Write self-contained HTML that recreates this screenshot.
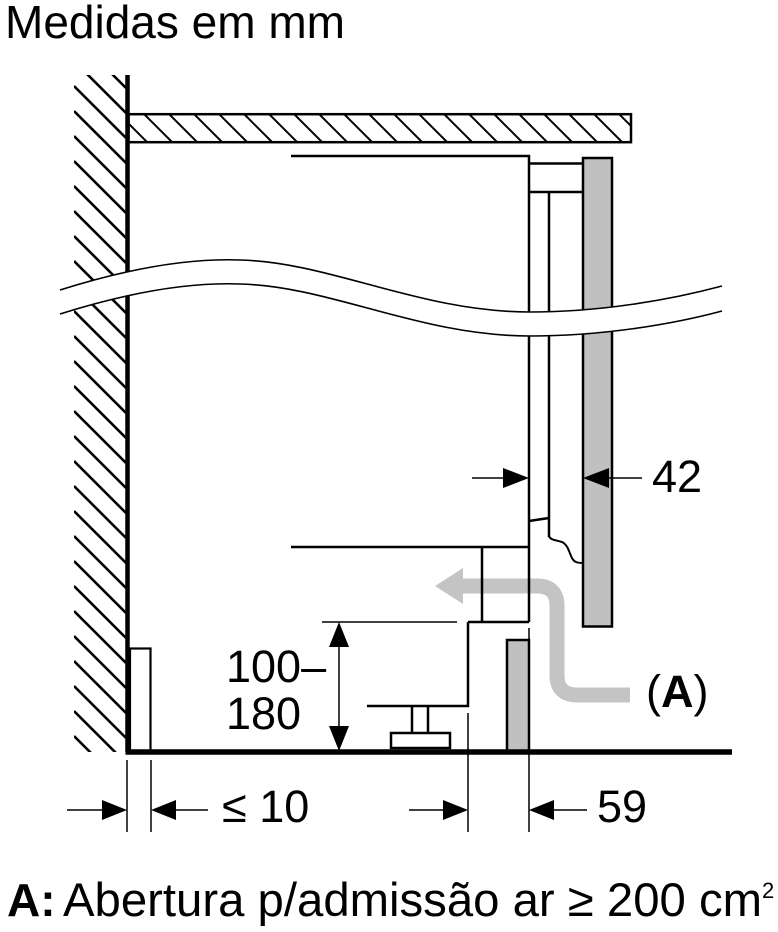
<!DOCTYPE html>
<html>
<head>
<meta charset="utf-8">
<style>
  html, body { margin:0; padding:0; background:#fff; }
  svg { display:block; }
  text { font-family: "Liberation Sans", Arial, sans-serif; fill:#000; }
</style>
</head>
<body>
<svg width="778" height="932" viewBox="0 0 778 932" xmlns="http://www.w3.org/2000/svg">
  <defs>
    <clipPath id="wallclip"><rect x="74" y="75" width="52" height="677"/></clipPath>
    <clipPath id="topclip"><rect x="128.5" y="114.5" width="502.5" height="27.5"/></clipPath>
  </defs>

  <!-- Title -->
  <text x="5" y="38" font-size="46">Medidas em mm</text>

  <!-- Wall hatch -->
  <g clip-path="url(#wallclip)" stroke="#000" stroke-width="2.6">
    <line x1="74" y1="36" x2="126" y2="88"/>
    <line x1="74" y1="61" x2="126" y2="113"/>
    <line x1="74" y1="86" x2="126" y2="138"/>
    <line x1="74" y1="111" x2="126" y2="163"/>
    <line x1="74" y1="136" x2="126" y2="188"/>
    <line x1="74" y1="161" x2="126" y2="213"/>
    <line x1="74" y1="186" x2="126" y2="238"/>
    <line x1="74" y1="211" x2="126" y2="263"/>
    <line x1="74" y1="236" x2="126" y2="288"/>
    <line x1="74" y1="261" x2="126" y2="313"/>
    <line x1="74" y1="286" x2="126" y2="338"/>
    <line x1="74" y1="311" x2="126" y2="363"/>
    <line x1="74" y1="336" x2="126" y2="388"/>
    <line x1="74" y1="361" x2="126" y2="413"/>
    <line x1="74" y1="386" x2="126" y2="438"/>
    <line x1="74" y1="411" x2="126" y2="463"/>
    <line x1="74" y1="436" x2="126" y2="488"/>
    <line x1="74" y1="461" x2="126" y2="513"/>
    <line x1="74" y1="486" x2="126" y2="538"/>
    <line x1="74" y1="511" x2="126" y2="563"/>
    <line x1="74" y1="536" x2="126" y2="588"/>
    <line x1="74" y1="561" x2="126" y2="613"/>
    <line x1="74" y1="586" x2="126" y2="638"/>
    <line x1="74" y1="611" x2="126" y2="663"/>
    <line x1="74" y1="636" x2="126" y2="688"/>
    <line x1="74" y1="661" x2="126" y2="713"/>
    <line x1="74" y1="686" x2="126" y2="738"/>
    <line x1="74" y1="711" x2="126" y2="763"/>
    <line x1="74" y1="736" x2="126" y2="788"/>
  </g>

  <!-- Countertop -->
  <rect x="128.5" y="114.2" width="502.5" height="28" fill="#fff" stroke="#000" stroke-width="2.5"/>
  <g clip-path="url(#topclip)" stroke="#000" stroke-width="2">
    <line x1="118" y1="113" x2="148" y2="143"/>
    <line x1="143" y1="113" x2="173" y2="143"/>
    <line x1="168" y1="113" x2="198" y2="143"/>
    <line x1="193" y1="113" x2="223" y2="143"/>
    <line x1="218" y1="113" x2="248" y2="143"/>
    <line x1="243" y1="113" x2="273" y2="143"/>
    <line x1="268" y1="113" x2="298" y2="143"/>
    <line x1="293" y1="113" x2="323" y2="143"/>
    <line x1="318" y1="113" x2="348" y2="143"/>
    <line x1="343" y1="113" x2="373" y2="143"/>
    <line x1="368" y1="113" x2="398" y2="143"/>
    <line x1="393" y1="113" x2="423" y2="143"/>
    <line x1="418" y1="113" x2="448" y2="143"/>
    <line x1="443" y1="113" x2="473" y2="143"/>
    <line x1="468" y1="113" x2="498" y2="143"/>
    <line x1="493" y1="113" x2="523" y2="143"/>
    <line x1="518" y1="113" x2="548" y2="143"/>
    <line x1="543" y1="113" x2="573" y2="143"/>
    <line x1="568" y1="113" x2="598" y2="143"/>
    <line x1="593" y1="113" x2="623" y2="143"/>
    <line x1="618" y1="113" x2="648" y2="143"/>
  </g>

  <!-- Gray airflow arrow (drawn beneath lines) -->
  <path d="M460 586 H537 Q557 586 557 606 V675 Q557 695 577 695 H630" fill="none" stroke="#c4c4c4" stroke-width="15"/>
  <polygon points="435,586 463,568 463,604" fill="#c4c4c4"/>

  <!-- Wall line -->
  <line x1="127.5" y1="75" x2="127.5" y2="752" stroke="#000" stroke-width="4.5"/>

  <!-- Appliance -->
  <g stroke="#000" stroke-width="2.5" fill="none">
    <polyline points="291,156 529,156 529,622"/>
    <line x1="529" y1="163.5" x2="583" y2="163.5"/>
    <line x1="529" y1="192" x2="583" y2="192"/>
    <line x1="549" y1="192" x2="549" y2="537"/>
    <line x1="529" y1="521" x2="549" y2="518"/>
    <path d="M549 536 C550 540 556 540 562 542 C568 545 569 552 572 558 C574 562 577 563 583 563" stroke-width="2"/>
    <line x1="291" y1="547" x2="529" y2="547"/>
    <line x1="482" y1="547" x2="482" y2="622"/>
    <polyline points="468,622 529,622"/>
    <polyline points="367,706 468,706 468,622"/>
    <line x1="412" y1="706" x2="412" y2="733"/>
    <line x1="428" y1="706" x2="428" y2="733"/>
    <rect x="391" y="733" width="59" height="15" fill="#fff"/>
  </g>

  <!-- Door -->
  <rect x="583" y="158" width="29" height="468.5" fill="#c0c0c0" stroke="#000" stroke-width="2.5"/>
  <!-- Plinth panel -->
  <rect x="507" y="640" width="22" height="112" fill="#c0c0c0" stroke="#000" stroke-width="2.5"/>
  <!-- Left plinth piece -->
  <rect x="130" y="648.5" width="20.5" height="104" fill="#fff" stroke="#000" stroke-width="2.2"/>

  <!-- Floor -->
  <line x1="125.5" y1="752" x2="732" y2="752" stroke="#000" stroke-width="5.5"/>

  <!-- Wave break band -->
  <path d="M60 290 C130 268 190 258 240 260 C330 262 420 312 530 312 C600 312 670 300 722 286 L722 311 C670 325 600 336 530 336 C420 336 330 286 240 284 C190 282 130 292 60 314 Z" fill="#fff" stroke="none"/>
  <path d="M60 290 C130 268 190 258 240 260 C330 262 420 312 530 312 C600 312 670 300 722 286" fill="none" stroke="#000" stroke-width="1.6"/>
  <path d="M60 314 C130 292 190 282 240 284 C330 286 420 336 530 336 C600 336 670 325 722 311" fill="none" stroke="#000" stroke-width="1.6"/>

  <!-- Dimension: 42 -->
  <g stroke="#000" stroke-width="1.5">
    <line x1="472" y1="478" x2="505" y2="478"/>
    <line x1="605" y1="478" x2="642" y2="478"/>
  </g>
  <polygon points="529,478 503,468 503,488" fill="#000"/>
  <polygon points="583,478 609,468 609,488" fill="#000"/>
  <text x="652" y="492" font-size="45">42</text>

  <!-- Dimension: 100–180 -->
  <g stroke="#000" stroke-width="1.5">
    <line x1="322" y1="622" x2="457" y2="622"/>
    <line x1="339" y1="640" x2="339" y2="735"/>
  </g>
  <polygon points="339,622 329,647 349,647" fill="#000"/>
  <polygon points="339,751 329,726 349,726" fill="#000"/>
  <text x="226" y="682" font-size="45">100–</text>
  <text x="226" y="729" font-size="45">180</text>

  <!-- Extension lines bottom -->
  <g stroke="#000" stroke-width="1.5">
    <line x1="127" y1="760" x2="127" y2="832"/>
    <line x1="151" y1="760" x2="151" y2="832"/>
    <line x1="468" y1="713" x2="468" y2="832"/>
    <line x1="529" y1="628" x2="529" y2="832"/>
    <line x1="67" y1="810" x2="104" y2="810"/>
    <line x1="174" y1="810" x2="208" y2="810"/>
    <line x1="409" y1="810" x2="445" y2="810"/>
    <line x1="552" y1="810" x2="587" y2="810"/>
  </g>
  <polygon points="127,810 102,800 102,820" fill="#000"/>
  <polygon points="151,810 176,800 176,820" fill="#000"/>
  <polygon points="468,810 443,800 443,820" fill="#000"/>
  <polygon points="529,810 554,800 554,820" fill="#000"/>
  <text x="222" y="822" font-size="45">≤ 10</text>
  <text x="597" y="822" font-size="45">59</text>

  <!-- (A) label -->
  <text x="646" y="707" font-size="45">(<tspan font-weight="bold">A</tspan>)</text>

  <!-- Footer -->
  <text x="7" y="916" font-size="46" font-weight="bold">A:</text>
  <text x="63" y="916" font-size="47" textLength="699" lengthAdjust="spacingAndGlyphs">Abertura p/admissão ar ≥ 200 cm</text>
  <text x="762" y="898" font-size="22">2</text>
</svg>
</body>
</html>
